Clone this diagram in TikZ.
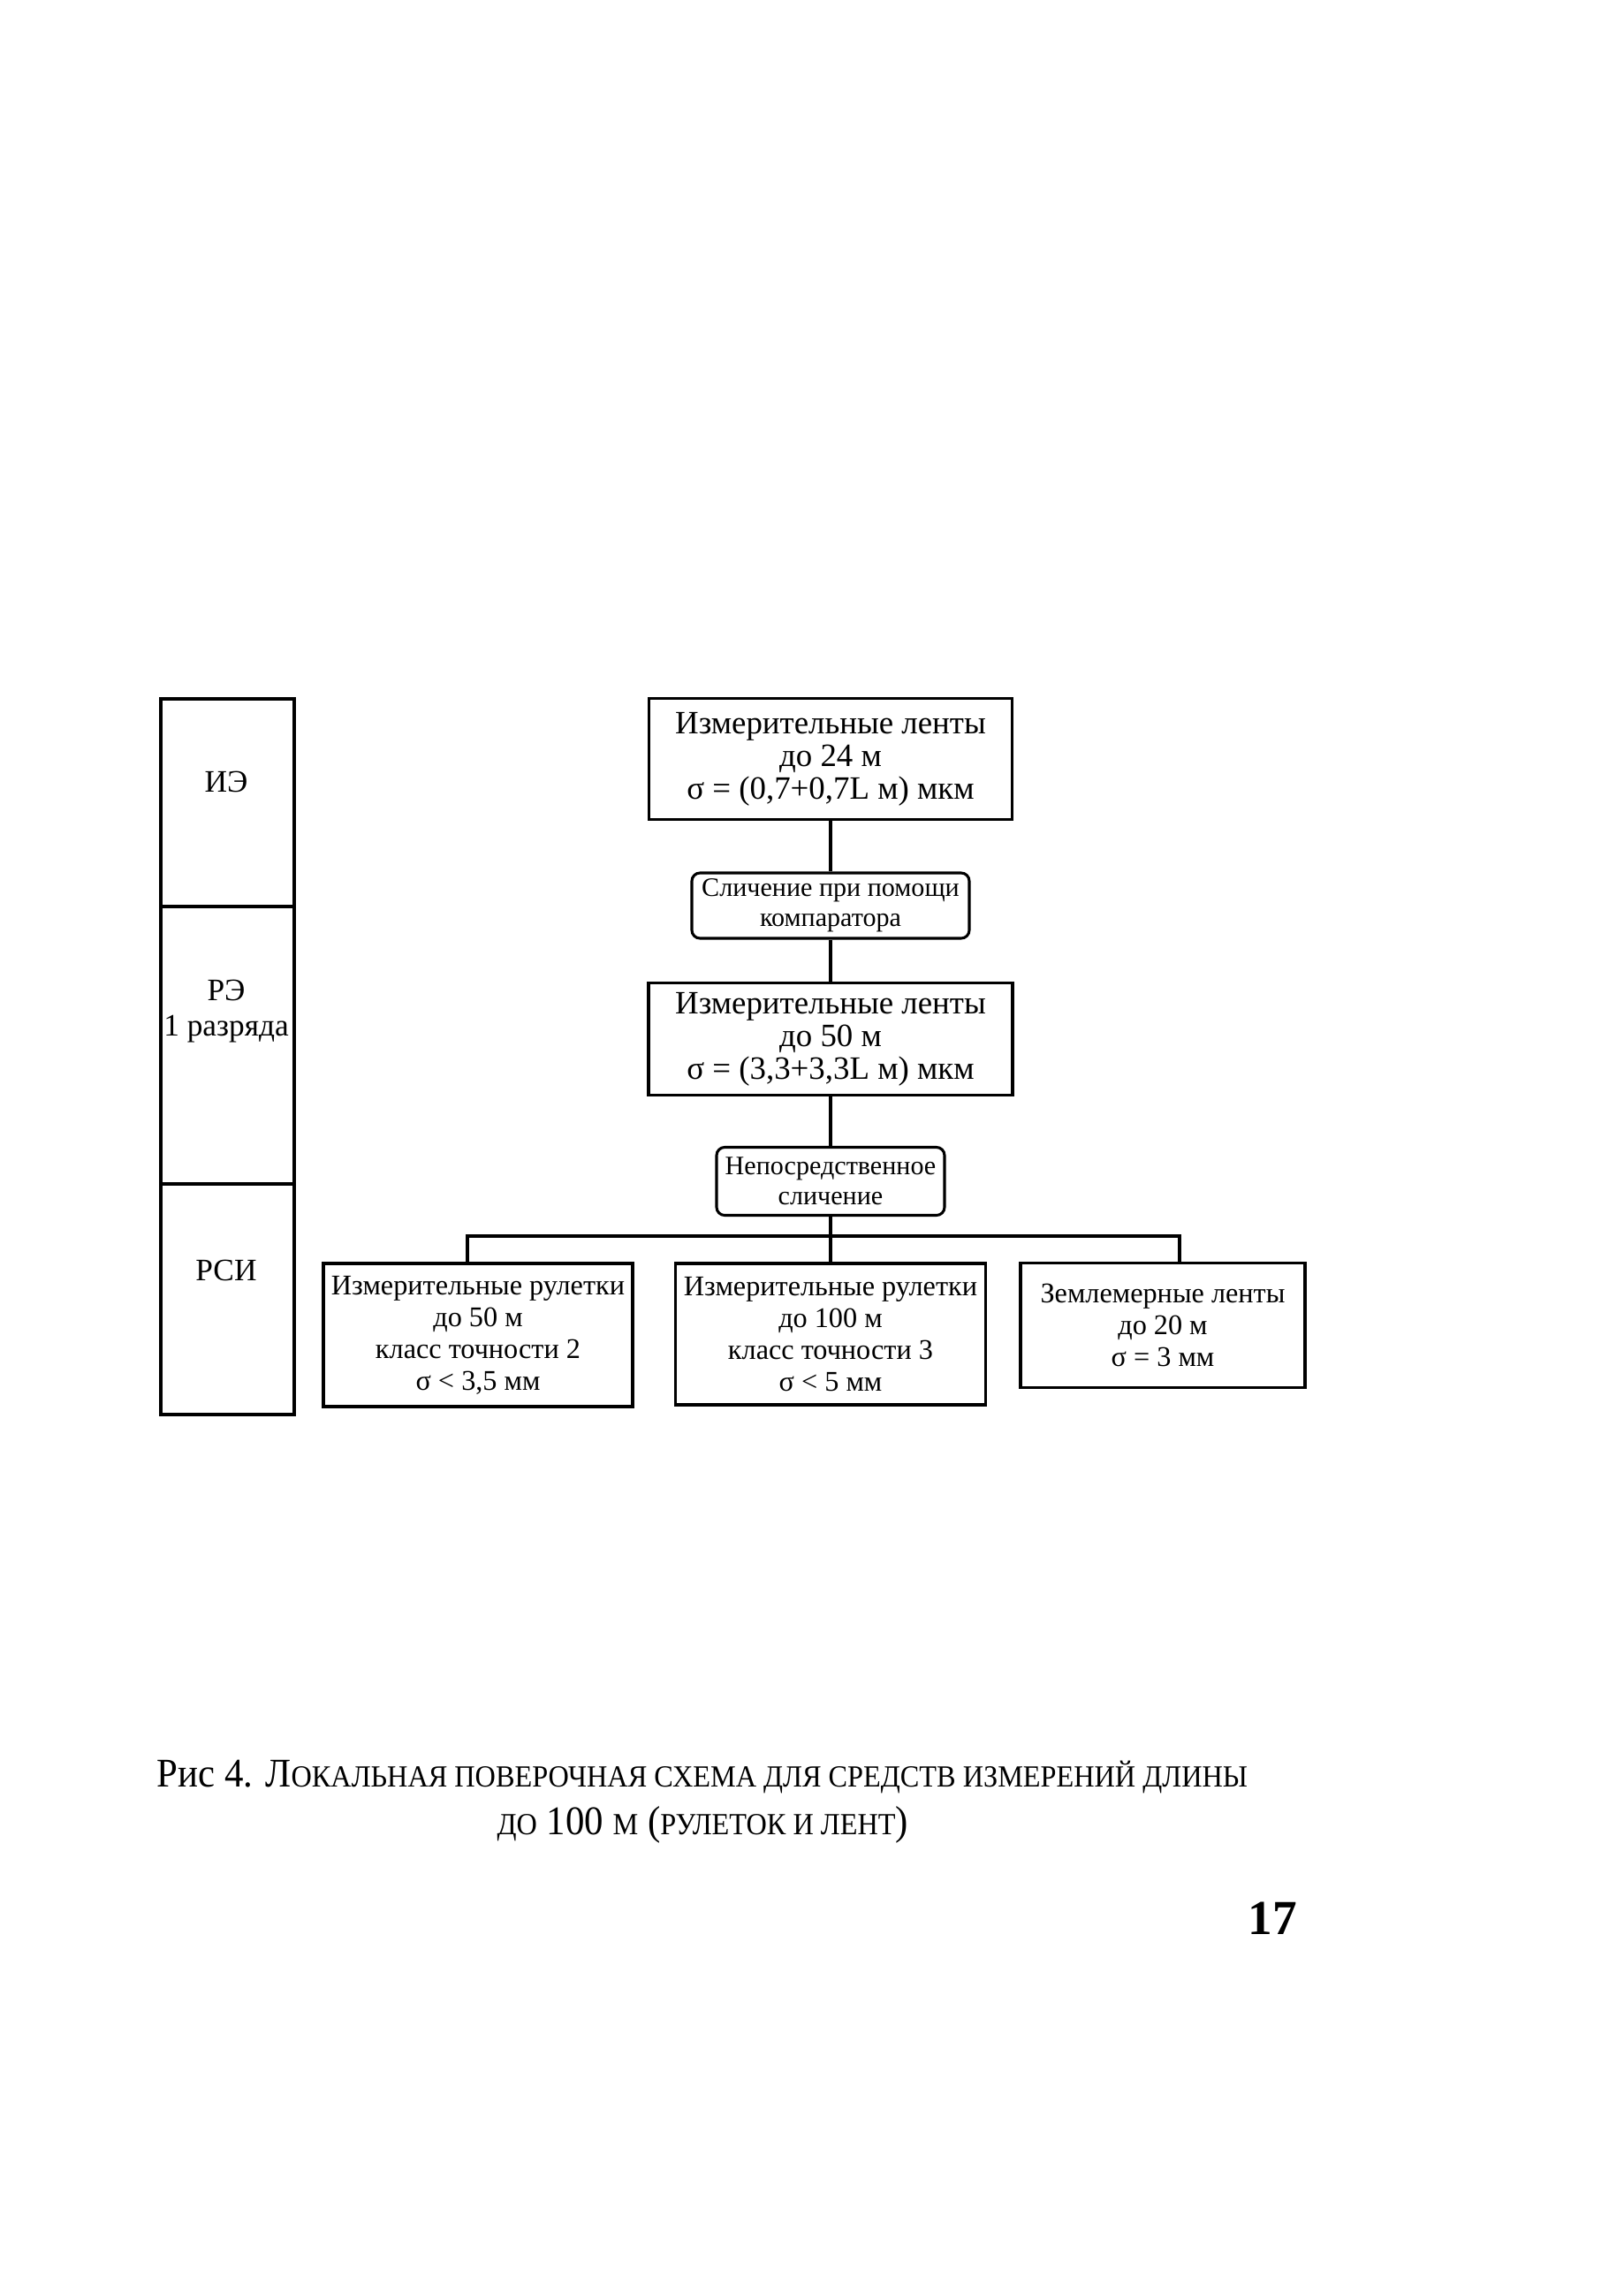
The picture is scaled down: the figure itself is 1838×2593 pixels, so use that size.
\documentclass[tikz,border=0pt]{standalone}
\usepackage{fontspec}
\setmainfont{Liberation Serif}
\newfontfamily\capfont[FakeStretch=0.93]{Liberation Serif}
\newcommand{\pxu}{0.3255pt}
\newcommand{\capbig}{\fontsize{15}{15}\selectfont}
\newcommand{\capsmall}{\fontsize{11.3}{11.3}\selectfont}

\tikzset{
  etalon/.style={rectangle, draw, line width=1pt, align=center, inner sep=0pt, font=\fontsize{12}{12}\selectfont},
  compare/.style={rectangle, rounded corners=3pt, draw, line width=1pt, align=center, inner sep=0pt, font=\fontsize{9.8}{11}\selectfont},
  rsi/.style={rectangle, draw, line width=1pt, align=center, inner sep=0pt, font=\fontsize{10.5}{11.7}\selectfont},
  level/.style={rectangle, draw, line width=1pt, inner sep=0pt, minimum width=151*\pxu},
  levellabel/.style={align=center, font=\fontsize{11.5}{13}\selectfont}
}

\begin{document}
\begin{tikzpicture}[x=0.3255pt, y=-0.3255pt]
  \useasboundingbox (0,0) rectangle (1838,2593);

  % levels column
  \node (lvl-ie) [level, minimum height=235*\pxu] at (257.5, 908.5) {};
  \node (lvl-re) [level, minimum height=314*\pxu] at (257.5, 1183) {};
  \node (lvl-rsi) [level, minimum height=261*\pxu] at (257.5, 1470.5) {};
  \node (ie-lbl) [levellabel] at (256, 885) {ИЭ};
  \node (re-lbl) [levellabel] at (256, 1145) {РЭ\\1 разряда};
  \node (rsi-lbl) [levellabel] at (256, 1438) {РСИ};

  % scheme
  \node (ie) [etalon, minimum width=411*\pxu, minimum height=137*\pxu] at (940, 859) {Измерительные ленты\\до 24 м\\σ = (0,7+0,7L м) мкм};
  \node (cmp1) [compare, minimum width=314*\pxu, minimum height=74*\pxu] at (940, 1025) {Сличение при помощи\\компаратора};
  \node (re) [etalon, minimum width=412*\pxu, minimum height=127*\pxu] at (940, 1176) {Измерительные ленты\\до 50 м\\σ = (3,3+3,3L м) мкм};
  \node (cmp2) [compare, minimum width=258*\pxu, minimum height=77*\pxu] at (940, 1337) {Непосредственное\\сличение};

  \node (rA) [rsi, minimum width=350*\pxu, minimum height=162*\pxu] at (541, 1511) {Измерительные рулетки\\до 50 м\\класс точности 2\\σ < 3,5 мм};
  \node (rB) [rsi, minimum width=351*\pxu, minimum height=160*\pxu] at (940, 1510) {Измерительные рулетки\\до 100 м\\класс точности 3\\σ < 5 мм};
  \node (rC) [rsi, minimum width=322*\pxu, minimum height=141*\pxu] at (1316, 1500) {Землемерные ленты\\до 20 м\\σ = 3 мм};

  \draw[line width=1pt] (ie) -- (cmp1);
  \draw[line width=1pt] (cmp1) -- (re);
  \draw[line width=1pt] (re) -- (cmp2);
  \draw[line width=1pt] (cmp2) -- (rB);

  \coordinate (busA) at (529, 1399);
  \coordinate (busC) at (1335, 1399);
  \draw[line width=1pt] (rA.north -| busA) -- (busA) -- (busC) -- (busC |- rC.north);

  % caption
  \node (cap1) [anchor=base west, inner sep=0pt] at (177, 2022) {\capfont\capbig Рис 4. Л{\capsmall ОКАЛЬНАЯ ПОВЕРОЧНАЯ СХЕМА ДЛЯ СРЕДСТВ ИЗМЕРЕНИЙ ДЛИНЫ}};
  \node (cap2) [anchor=base west, inner sep=0pt] at (562, 2076) {\capfont\capbig{\capsmall ДО} 100 {\capsmall М} ({\capsmall РУЛЕТОК И ЛЕНТ})};
  \node (pagenum) [anchor=base, inner sep=0pt] at (1440, 2189) {\fontsize{18}{18}\selectfont\bfseries 17};
\end{tikzpicture}
\end{document}
